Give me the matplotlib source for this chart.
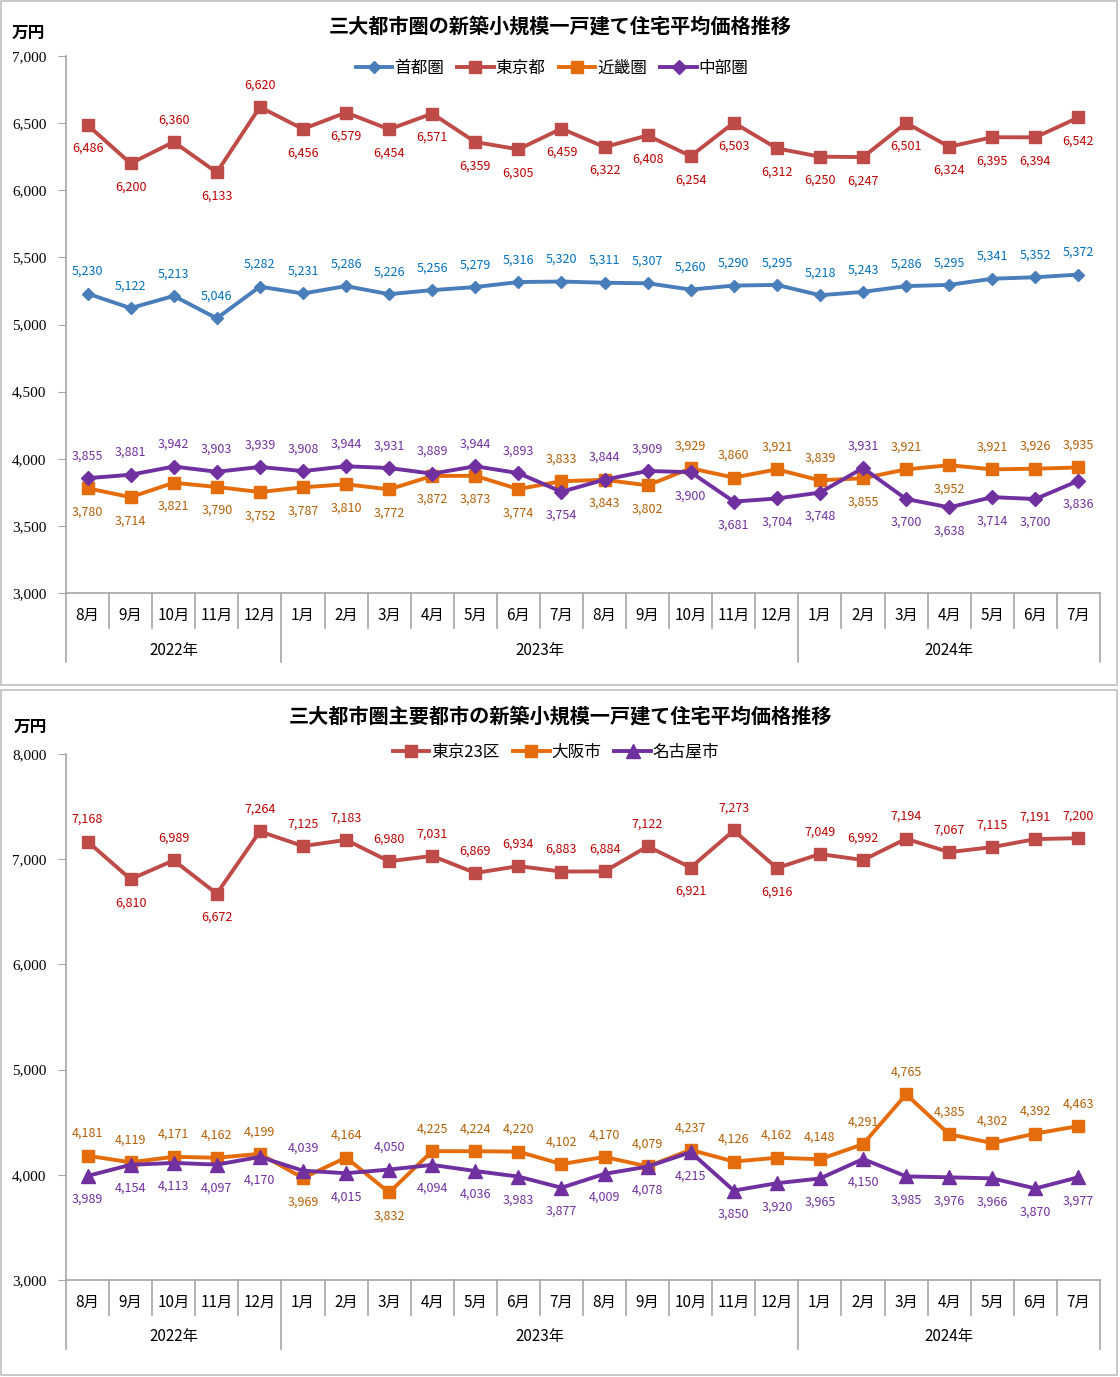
"""Recreate the two-panel new small detached house price chart."""

import matplotlib

matplotlib.use("Agg")
import matplotlib.pyplot as plt
from matplotlib.patches import Rectangle
from matplotlib.transforms import ScaledTranslation

plt.rcParams["font.family"] = ["Noto Sans CJK JP", "DejaVu Sans"]

months = ["8月", "9月", "10月", "11月", "12月",
          "1月", "2月", "3月", "4月", "5月", "6月", "7月", "8月", "9月", "10月", "11月", "12月",
          "1月", "2月", "3月", "4月", "5月", "6月", "7月"]
years = ["2022年", "2023年", "2024年"]
year_spans = [(0, 4), (5, 16), (17, 23)]

# top chart (万円)
shutoken = [5230, 5122, 5213, 5046, 5282, 5231, 5286, 5226, 5256, 5279, 5316, 5320,
            5311, 5307, 5260, 5290, 5295, 5218, 5243, 5286, 5295, 5341, 5352, 5372]
tokyo = [6486, 6200, 6360, 6133, 6620, 6456, 6579, 6454, 6571, 6359, 6305, 6459,
         6322, 6408, 6254, 6503, 6312, 6250, 6247, 6501, 6324, 6395, 6394, 6542]
kinki = [3780, 3714, 3821, 3790, 3752, 3787, 3810, 3772, 3872, 3873, 3774, 3833,
         3843, 3802, 3929, 3860, 3921, 3839, 3855, 3921, 3952, 3921, 3926, 3935]
chubu = [3855, 3881, 3942, 3903, 3939, 3908, 3944, 3931, 3889, 3944, 3893, 3754,
         3844, 3909, 3900, 3681, 3704, 3748, 3931, 3700, 3638, 3714, 3700, 3836]

# bottom chart (万円)
tokyo23 = [7168, 6810, 6989, 6672, 7264, 7125, 7183, 6980, 7031, 6869, 6934, 6883,
           6884, 7122, 6921, 7273, 6916, 7049, 6992, 7194, 7067, 7115, 7191, 7200]
osaka = [4181, 4119, 4171, 4162, 4199, 3969, 4164, 3832, 4225, 4224, 4220, 4102,
         4170, 4079, 4237, 4126, 4162, 4148, 4291, 4765, 4385, 4302, 4392, 4463]
nagoya = [3989, 4095, 4113, 4097, 4170, 4039, 4015, 4050, 4094, 4036, 3983, 3877,
          4009, 4078, 4215, 3850, 3920, 3965, 4150, 3985, 3976, 3966, 3870, 3977]
# the source chart prints 4,154 on the 9月 2022 point although it is drawn near 4,095
nagoya_label_text = {1: "4,154"}

DPI = 100
W, H = 1120, 1377
GRAY = "#A6A6A6"

fig = plt.figure(figsize=(W / DPI, H / DPI), dpi=DPI)

# outer chart borders
for y0, y1 in [(1, 685), (690, 1375)]:
    fig.patches.append(Rectangle((1 / W, 1 - y1 / H), 1116 / W, (y1 - y0) / H,
                                 transform=fig.transFigure, fill=False,
                                 edgecolor="#BFBFBF", linewidth=1.2))


def px_axes(top, bottom, left=66, right=1100):
    return fig.add_axes([left / W, 1 - bottom / H, (right - left) / W, (bottom - top) / H])


def down(ax, px):
    return ax.get_xaxis_transform() + ScaledTranslation(0, -px / DPI, fig.dpi_scale_trans)


def format_axis(ax, ylim, step):
    n = len(months)
    ticks = list(range(ylim[0], ylim[1] + 1, step))
    ax.set_xlim(-0.5, n - 0.5)
    ax.set_ylim(*ylim)
    ax.set_yticks(ticks)
    ax.set_yticklabels([f"{v:,}" for v in ticks])
    for lab in ax.get_yticklabels():
        lab.set_fontfamily("Liberation Serif")
        lab.set_fontsize(11)
    ax.tick_params(axis="y", length=6, color=GRAY, pad=8)
    ax.set_xticks([])
    for side in ("top", "right"):
        ax.spines[side].set_visible(False)
    for side in ("left", "bottom"):
        ax.spines[side].set_color(GRAY)
        ax.spines[side].set_linewidth(1.2)

    # two-level category axis: short separators between months, long ones at year bounds
    bounds = {-0.5, n - 0.5} | {e + 0.5 for _, e in year_spans}
    ax_h = ax.get_position().height * H
    for i in range(n + 1):
        x = i - 0.5
        depth = 69 if x in bounds else 35
        ax.plot([x, x], [0, -depth / ax_h], color=GRAY, lw=1.2, clip_on=False,
                transform=ax.get_xaxis_transform())
    for i, m in enumerate(months):
        ax.text(i, 0, m, transform=down(ax, 22), ha="center", va="center", fontsize=11)
    for (s, e), label in zip(year_spans, years):
        ax.text((s + e) / 2, 0, label, transform=down(ax, 57), ha="center", va="center",
                fontsize=11)


def label_points(ax, values, color, positions, texts=None):
    texts = texts or {}
    for i, v in enumerate(values):
        dy = 16 if positions[i] == "above" else -17
        ax.annotate(texts.get(i, f"{v:,}"), (i, v), xytext=(0, dy), textcoords="offset points",
                    ha="center", va="center", fontsize=9, color=color)


def pair_positions(a, b, a_below=()):
    pa = ["above" if x >= y else "below" for x, y in zip(a, b)]
    pb = ["below" if p == "above" else "above" for p in pa]
    for i in a_below:
        pa[i] = "below"
    return pa, pb


xs = list(range(len(months)))
line_kw = dict(linewidth=2.8, solid_joinstyle="miter")

# ---- top chart ----
ax1 = px_axes(56, 593)
format_axis(ax1, (3000, 7000), 500)
ax1.plot(xs, shutoken, color="#4A7EBB", marker="D", markersize=6.5, label="首都圏", **line_kw)
ax1.plot(xs, tokyo, color="#BE4B48", marker="s", markersize=9, label="東京都", **line_kw)
ax1.plot(xs, kinki, color="#E46C0A", marker="s", markersize=9, label="近畿圏", **line_kw)
ax1.plot(xs, chubu, color="#7030A0", marker="D", markersize=7.5, label="中部圏", **line_kw)

label_points(ax1, shutoken, "#0070C0", ["above"] * len(xs))
tokyo_pos = ["above" if i in (2, 4) else "below" for i in xs]
label_points(ax1, tokyo, "#C00000", tokyo_pos)
kinki_pos, chubu_pos = pair_positions(kinki, chubu, a_below=(20,))
label_points(ax1, kinki, "#B45F06", kinki_pos)
label_points(ax1, chubu, "#7030A0", chubu_pos)

fig.text(560 / W, 1 - 27 / H, "三大都市圏の新築小規模一戸建て住宅平均価格推移",
         ha="center", va="center", fontsize=14.5, fontweight="bold")
fig.text(12 / W, 1 - 33 / H, "万円", ha="left", va="center", fontsize=12, fontweight="bold")
fig.legend(*ax1.get_legend_handles_labels(), loc="center", bbox_to_anchor=(552 / W, 1 - 68 / H),
           ncol=4, frameon=False, fontsize=12, handlelength=2.2, handletextpad=0.1,
           columnspacing=0.8, borderaxespad=0)

# ---- bottom chart ----
ax2 = px_axes(754, 1280)
format_axis(ax2, (3000, 8000), 1000)
ax2.plot(xs, tokyo23, color="#BE4B48", marker="s", markersize=9, label="東京23区", **line_kw)
ax2.plot(xs, osaka, color="#E46C0A", marker="s", markersize=9, label="大阪市", **line_kw)
ax2.plot(xs, nagoya, color="#7030A0", marker="^", markersize=9.5, label="名古屋市", **line_kw)

t23_pos = ["below" if i in (1, 3, 14, 16) else "above" for i in xs]
label_points(ax2, tokyo23, "#C00000", t23_pos)
osaka_pos, nagoya_pos = pair_positions(osaka, nagoya)
label_points(ax2, osaka, "#B45F06", osaka_pos)
label_points(ax2, nagoya, "#7030A0", nagoya_pos, nagoya_label_text)

fig.text(560 / W, 1 - 717 / H, "三大都市圏主要都市の新築小規模一戸建て住宅平均価格推移",
         ha="center", va="center", fontsize=14.5, fontweight="bold")
fig.text(14 / W, 1 - 727 / H, "万円", ha="left", va="center", fontsize=12, fontweight="bold")
fig.legend(*ax2.get_legend_handles_labels(), loc="center", bbox_to_anchor=(556 / W, 1 - 752 / H),
           ncol=3, frameon=False, fontsize=12, handlelength=2.2, handletextpad=0.1,
           columnspacing=0.8, borderaxespad=0)

fig.savefig("out.png", dpi=DPI)
plt.close(fig)
